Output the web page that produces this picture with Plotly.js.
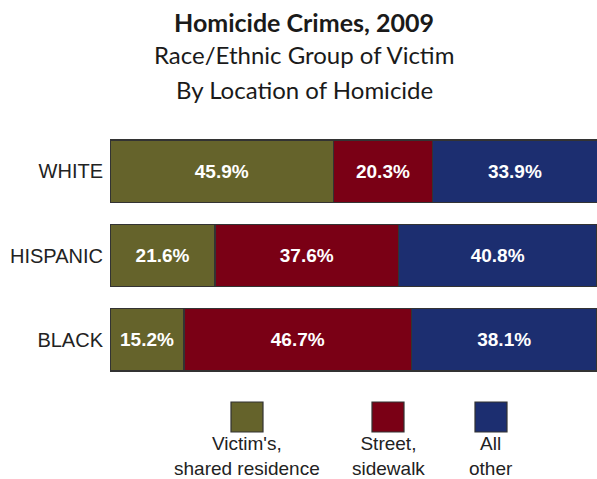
<!DOCTYPE html>
<html><head><meta charset="utf-8">
<script src="https://cdn.plot.ly/plotly-3.0.1.min.js"></script>
<style>html,body{margin:0;padding:0;background:#fff;}#chart{width:597px;height:479px;}</style>
</head><body><div id="chart"></div>
<script>
const groups = ['WHITE', 'HISPANIC', 'BLACK'];
const seriesNames = ["Victim's,<br>shared residence", 'Street,<br>sidewalk', 'All<br>other'];
const residence = [45.9, 21.6, 15.2];
const street = [20.3, 37.6, 46.7];
const other = [33.9, 40.8, 38.1];
const colors = ['#65632B', '#7A0015', '#1C2E70'];
const titleLines = ['<b>Homicide Crimes, 2009</b>', 'Race/Ethnic Group of Victim', 'By Location of Homicide'];

const series = [residence, street, other];
const traces = series.map((vals, i) => ({
  type: 'bar', orientation: 'h', y: groups, x: vals, name: seriesNames[i],
  marker: {color: colors[i], line: {color: '#333333', width: 1.5}},
  text: vals.map(v => v.toFixed(1) + '%'), textposition: 'inside', insidetextanchor: 'middle',
  textfont: {family: 'Liberation Sans, Arial', size: 19, color: '#ffffff', weight: 'bold'},
  hoverinfo: 'none', showlegend: false
}));

// plot area geometry helpers (paper coords)
const W = 597, H = 479, mL = 110, mR = 0, mT = 129, mB = 97;
const pw = W - mL - mR, ph = H - mT - mB;
const px = x => (x - mL) / pw;
const py = y => (H - mB - y) / ph;

const annotations = [];
const titleY = [22, 55, 89];
const titleSize = [25, 24, 24];
titleLines.forEach((t, i) => annotations.push({
  text: t, xref: 'paper', yref: 'paper', x: px(304), y: py(titleY[i]), xanchor: 'center', yanchor: 'middle',
  showarrow: false, font: {family: 'Lato, Open Sans, sans-serif', size: titleSize[i], color: '#1a1a1a'}
}));

const shapes = [];
const legX = [247, 388, 491];
seriesNames.forEach((n, i) => {
  shapes.push({type: 'rect', xref: 'paper', yref: 'paper', x0: px(legX[i] - 16), x1: px(legX[i] + 16), y0: py(432), y1: py(402),
    fillcolor: colors[i], line: {color: '#333333', width: 1.2}});
  annotations.push({text: n, xref: 'paper', yref: 'paper', x: px(legX[i]), y: py(431), xanchor: 'center', yanchor: 'top',
    showarrow: false, align: 'center', font: {family: 'Liberation Sans, Arial', size: 19, color: '#222'}});
});

const layout = {
  width: W, height: H, margin: {l: mL, r: mR, t: mT, b: mB},
  paper_bgcolor: '#fff', plot_bgcolor: '#fff',
  barmode: 'stack', bargap: 0.26, showlegend: false,
  xaxis: {range: [0, 100], visible: false, fixedrange: true},
  yaxis: {range: [2.5, -0.5], showgrid: false, zeroline: false, showline: false, ticks: '',
    ticklabelstandoff: 6, tickfont: {family: 'Liberation Sans, Arial', size: 20, color: '#222'}},
  annotations: annotations, shapes: shapes
};
Plotly.newPlot('chart', traces, layout, {displayModeBar: false, staticPlot: true});
</script></body></html>
